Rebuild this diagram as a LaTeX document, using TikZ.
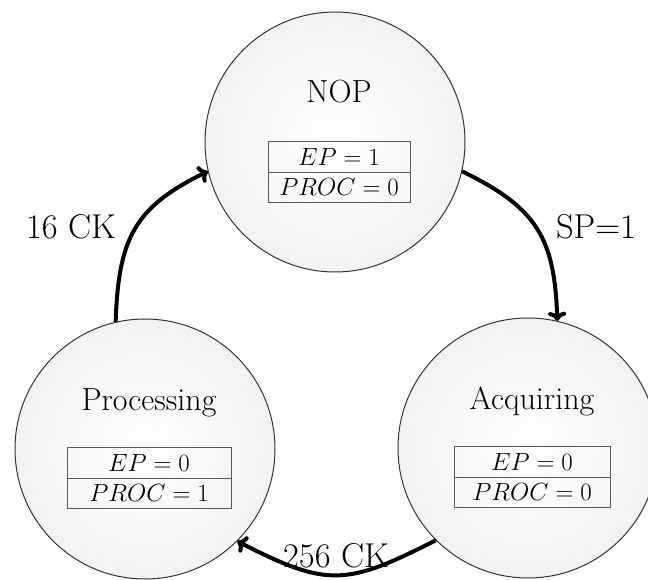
\documentclass[tikz,border=0pt]{standalone}
\usetikzlibrary{arrows.meta,shapes.multipart}

\newlength{\du}
\setlength{\du}{1pt}

\definecolor{statelinecolor}{rgb}{0.200000, 0.200000, 0.200000}
\definecolor{statefillcolor}{rgb}{0.850000, 0.850000, 0.850000}
\definecolor{statemidcolor}{rgb}{0.950000, 0.950000, 0.950000}
\definecolor{regslinecolor}{rgb}{0.350000, 0.350000, 0.350000}

\pgfdeclareradialshading{statefill}{\pgfpoint{0bp}{0bp}}{%
  color(0bp)=(white); color(25bp)=(statemidcolor); color(50bp)=(statefillcolor)}

\tikzset{
  statecircle/.style={circle, draw=statelinecolor, line width=1\du, shading=statefill, minimum size=260\du, inner sep=0pt},
  statename/.style={anchor=base, inner sep=0pt, font=\fontsize{32}{38}\selectfont},
  regsbox/.style={rectangle split, rectangle split parts=2, draw=regslinecolor, line width=0.8\du, inner xsep=0pt, inner ysep=6.5\du, font=\fontsize{24}{28}\selectfont},
  flow/.style={line width=4\du, -{To[length=9pt,width=18pt]}},
  flowlabel/.style={inner sep=0pt, font=\fontsize{34.5}{40}\selectfont},
}

\begin{document}
\begin{tikzpicture}[x=1\du, y=1\du]
\useasboundingbox (0,0) rectangle (648,579);
% states
\node[statecircle] (nop) at (335,437) {};
\node[statecircle] (proc) at (145,130) {};
\node[statecircle] (acq) at (528,131) {};
% state names
\node[statename] (nopname) at (339,476) {NOP};
\node[statename] (procname) at (149,169) {Processing};
\node[statename] (acqname) at (532,170) {Acquiring};
% register values
\node[regsbox, minimum width=142\du] (nopregs) at (339,407) {$EP=1$\nodepart{two}$PROC=0$};
\node[regsbox, minimum width=164\du] (procregs) at (149,101) {$EP=0$\nodepart{two}$PROC=1$};
\node[regsbox, minimum width=156\du] (acqregs) at (532,102) {$EP=0$\nodepart{two}$PROC=0$};
% transitions
\draw[flow] (proc.103) to[out=88, in=206, looseness=1.2] (nop.193);
\draw[flow] (nop.347) to[out=-26, in=92, looseness=1.2] (acq.77);
\draw[flow] (acq.225) to[out=-153, in=-27, looseness=1.3] (proc.315);
% transition labels
\node[flowlabel] (ckslow) at (71,352) {16 CK};
\node[flowlabel] (spset) at (596,352) {SP=1};
\node[flowlabel] (ckfast) at (336,23) {256 CK};
\end{tikzpicture}
\end{document}
